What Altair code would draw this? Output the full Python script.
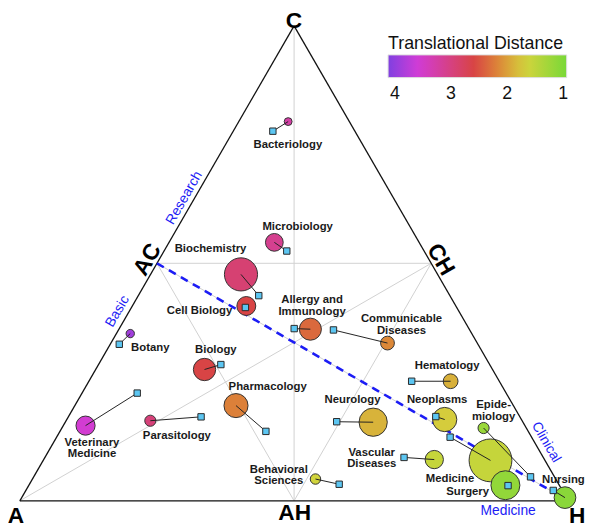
import math
import altair as alt
import pandas as pd

# ---------------- data (positions in triangle units: A=(0,0), H=(1,0), C=(0.5,0.866)) -------------
disciplines = ["Bacteriology", "Microbiology", "Biochemistry", "Cell Biology", "Allergy and Immunology",
               "Communicable Diseases", "Botany", "Biology", "Pharmacology", "Veterinary Medicine",
               "Parasitology", "Hematology", "Neurology", "Neoplasms", "Epidemiology",
               "Vascular Diseases", "Medicine", "Surgery", "Behavioral Sciences", "Nursing"]
circle_x = [0.4892, 0.4640, 0.4032, 0.4129, 0.5297, 0.6703, 0.2013, 0.3367, 0.3941, 0.1198,
            0.2379, 0.7854, 0.6442, 0.7746, 0.8455, 0.7556, 0.8581, 0.8853, 0.5390, 0.9939]
circle_y = [0.6914, 0.4712, 0.4128, 0.3552, 0.3129, 0.2876, 0.3049, 0.2394, 0.1736, 0.1371,
            0.1460, 0.2180, 0.1433, 0.1482, 0.1327, 0.0752, 0.0737, 0.0284, 0.0397, 0.0058]
square_x = [0.4613, 0.4867, 0.4356, 0.4112, 0.5002, 0.5718, 0.1813, 0.3665, 0.4486, 0.2140,
            0.3304, 0.7144, 0.5777, 0.7584, 0.9311, 0.7005, 0.7845, 0.8901, 0.5822, 0.9725]
square_y = [0.6739, 0.4554, 0.3741, 0.3525, 0.3140, 0.3115, 0.2854, 0.2484, 0.1266, 0.1964,
            0.1531, 0.2180, 0.1442, 0.1536, 0.0437, 0.0791, 0.1160, 0.0277, 0.0302, 0.0189]
volume = [16, 81, 282, 92, 125, 49, 18, 128, 149, 94,
          32, 56, 205, 151, 32, 86, 471, 216, 28, 121]
trans_distance = [3.25, 3.10, 2.90, 2.60, 2.35, 2.15, 3.90, 2.60, 2.20, 3.55,
                  2.95, 1.90, 1.88, 1.72, 1.20, 1.55, 1.55, 1.15, 1.65, 1.08]

label_text = ["Bacteriology", "Microbiology", "Biochemistry", "Cell Biology", "Allergy and\nImmunology",
              "Communicable\nDiseases", "Botany", "Biology", "Pharmacology", "Veterinary\nMedicine",
              "Parasitology", "Hematology", "Neurology", "Neoplasms", "Epide-\nmiology",
              "Vascular\nDiseases", "Medicine", "Surgery", "Behavioral\nSciences", "Nursing"]
label_x = [0.4887, 0.5065, 0.3477, 0.3277, 0.5328, 0.6958, 0.2378, 0.3574, 0.4518, 0.1315,
           0.2863, 0.7791, 0.6065, 0.7608, 0.8638, 0.6415, 0.7842, 0.8165, 0.4722, 0.9910]
label_y = [0.6486, 0.4995, 0.4595, 0.3462, 0.3662, 0.3313, 0.2782, 0.2743, 0.2068, 0.1060,
           0.1187, 0.2451, 0.1833, 0.1829, 0.1745, 0.0878, 0.0403, 0.0151, 0.0569, 0.0387]

corner_text = ["C", "A", "H", "AH", "AC", "CH"]
corner_x = [0.4996, -0.0072, 1.0162, 0.5011, 0.2329, 0.7671]
corner_y = [0.8750, -0.0279, -0.0279, -0.0228, 0.4397, 0.4397]
corner_rot = [0, 0, 0, 0, 300, 60]

axis_text = ["Research", "Basic", "Clinical", "Medicine"]
axis_x = [0.2998, 0.1781, 0.9595, 0.8903]
axis_y = [0.5522, 0.3453, 0.1067, -0.0185]
axis_rot = [300, 300, 60, 0]

legend_values = [4, 3, 2, 1]
color_stops = [4.12, 3.58, 2.59, 2.15, 1.67, 0.94]
color_range = ["#8040e0", "#d23cd6", "#d84444", "#dc8838", "#d4d43c", "#78d838"]

# ---------------- geometry of the ternary frame ----------------
h3 = math.sqrt(3) / 2
V = {"A": (0.0, 0.0), "H": (1.0, 0.0), "C": (0.5, h3)}
M = {"AC": (0.25, h3 / 2), "CH": (0.75, h3 / 2), "AH": (0.5, 0.0)}


def seg(p, q):
    return {"x0": p[0], "y0": p[1], "x1": q[0], "y1": q[1]}


edges = pd.DataFrame([seg(V["A"], V["H"]), seg(V["H"], V["C"]), seg(V["C"], V["A"])])
grid = pd.DataFrame([seg(V["A"], M["CH"]), seg(V["H"], M["AC"]), seg(V["C"], M["AH"]),
                     seg(M["AC"], M["CH"]), seg(M["CH"], M["AH"]), seg(M["AH"], M["AC"])])
divide = pd.DataFrame([seg(M["AC"], V["H"])])

pts = pd.DataFrame({"name": disciplines, "cx": circle_x, "cy": circle_y, "sx": square_x, "sy": square_y,
                    "volume": volume, "td": trans_distance}).sort_values("volume", ascending=False)
labels = pd.DataFrame({"t": label_text, "x": label_x, "y": label_y})
corners = pd.DataFrame({"t": corner_text, "x": corner_x, "y": corner_y, "r": corner_rot})
axlabs = pd.DataFrame({"t": axis_text, "x": axis_x, "y": axis_y, "r": axis_rot})

W, H = 592, 520
xs = alt.Scale(domain=[-12 / 556, 580 / 556], nice=False, zero=False)
ys = alt.Scale(domain=[-24 / 556, 496 / 556], nice=False, zero=False)
FONT = "Liberation Sans"


def X(f):
    return alt.X(f, type="quantitative", scale=xs, axis=None)


def Y(f):
    return alt.Y(f, type="quantitative", scale=ys, axis=None)


grid_l = alt.Chart(grid).mark_rule(color="#d0d0d0", strokeWidth=1).encode(
    x=X("x0"), y=Y("y0"), x2="x1", y2="y1")
edge_l = alt.Chart(edges).mark_rule(color="#111111", strokeWidth=1.3).encode(
    x=X("x0"), y=Y("y0"), x2="x1", y2="y1")
div_l = alt.Chart(divide).mark_rule(color="#1c1cf5", strokeWidth=2.6, strokeDash=[8, 6]).encode(
    x=X("x0"), y=Y("y0"), x2="x1", y2="y1")

circ_l = alt.Chart(pts).transform_calculate(negtd="-datum.td").mark_circle(
    opacity=1, stroke="#333333", strokeWidth=1).encode(
    x=X("cx"), y=Y("cy"),
    size=alt.Size("volume:Q", scale=alt.Scale(domain=[0, 100], range=[0, 400]), legend=None),
    color=alt.Color("negtd:Q",
                    scale=alt.Scale(domain=[-v for v in color_stops], range=color_range,
                                    interpolate="rgb"),
                    legend=alt.Legend(orient="none", legendX=385.3, legendY=24, direction="horizontal",
                                      gradientLength=181, gradientThickness=23,
                                      title="Translational Distance", titleFont=FONT, titleFontSize=18,
                                      titleFontWeight="normal", titleColor="#111111", titlePadding=2,
                                      labelFont=FONT, labelFontSize=18, labelColor="#111111",
                                      labelOffset=8, values=[-v for v in legend_values],
                                      labelExpr="format(-datum.value, 'd')",
                                      gradientStrokeColor="#dddddd", gradientStrokeWidth=1)))
conn_l = alt.Chart(pts).mark_rule(color="#222222", strokeWidth=1).encode(
    x=X("cx"), y=Y("cy"), x2="sx", y2="sy")
sq_l = alt.Chart(pts).mark_square(size=42, opacity=1, fill="#5cc6f2", stroke="#2a2a2a",
                                  strokeWidth=1).encode(x=X("sx"), y=Y("sy"))
lab_l = alt.Chart(labels).mark_text(font=FONT, fontSize=11.5, fontWeight="bold", color="#1a1a1a",
                                    align="center", baseline="middle", lineBreak="\n",
                                    lineHeight=11.8).encode(
    x=X("x"), y=Y("y"), text="t:N")
corner_l = alt.Chart(corners).mark_text(font=FONT, fontSize=23, fontWeight="bold", color="#000000",
                                        align="center", baseline="middle").encode(
    x=X("x"), y=Y("y"), text="t:N", angle=alt.Angle("r:Q", scale=None))
axis_l = alt.Chart(axlabs).mark_text(font=FONT, fontSize=14, color="#1c1cf5",
                                     align="center", baseline="middle").encode(
    x=X("x"), y=Y("y"), text="t:N", angle=alt.Angle("r:Q", scale=None))

chart = alt.layer(grid_l, edge_l, div_l, circ_l, conn_l, sq_l, lab_l, corner_l, axis_l).properties(
    width=W, height=H, autosize=alt.AutoSizeParams(type="none"), padding=0
).configure_view(stroke=None)

chart.save("out.html", embed_options={"renderer": "svg", "actions": False})
